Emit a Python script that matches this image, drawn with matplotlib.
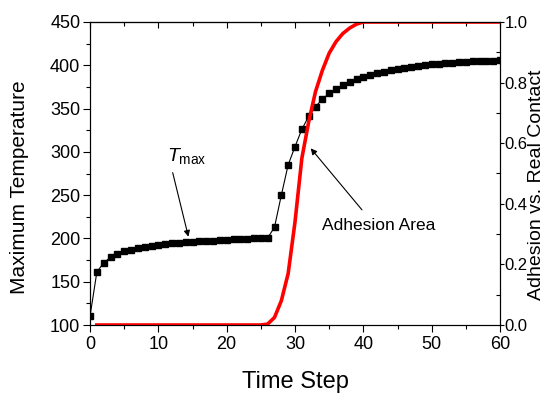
import matplotlib
matplotlib.use("Agg")
import matplotlib.pyplot as plt
from matplotlib.ticker import MultipleLocator

plt.rcParams['font.family'] = ['Liberation Sans', 'DejaVu Sans']
plt.rcParams['mathtext.fontset'] = 'custom'
plt.rcParams['mathtext.rm'] = 'Liberation Sans'
plt.rcParams['mathtext.it'] = 'Liberation Sans:italic'

# time steps and maximum temperature (left axis)
steps = list(range(0, 61))
t_max = [110, 161, 172, 178, 182, 185, 187, 189, 190.5, 191.5,
         192.5, 193.5, 194.5, 195, 195.5, 196, 196.5, 197, 197.5, 198,
         198.5, 199, 199, 199.5, 200, 200, 200.5, 213, 250, 285,
         306, 326, 341, 352, 361, 367.5, 372.5, 376.8, 380.6, 383.7,
         386.5, 388.7, 390.6, 392.5, 394, 395.5, 397, 398, 399, 400,
         401, 401.7, 402.3, 403, 403.5, 404, 404.4, 404.8, 405.1, 405.4,
         405.7]

# adhesion vs. real contact (right axis), starts at step 1
adh_steps = list(range(1, 61))
adhesion = [0] * 25 + [0.003, 0.025, 0.08, 0.17, 0.34, 0.55, 0.67, 0.77,
                       0.84, 0.897, 0.935, 0.962, 0.98, 0.993, 1.0] + [1.0] * 20

fig = plt.figure(figsize=(5.5, 3.98), dpi=100)
ax = fig.add_axes([90 / 550, 1 - 325 / 398, 410 / 550, 303 / 398])
ax2 = ax.twinx()

ax.plot(steps, t_max, color="black", linewidth=0.8, marker='s',
        markersize=4.3, zorder=3)
ax2.plot(adh_steps, adhesion, color="red", linewidth=2.6, zorder=2)

ax.set_xlim(0, 60)
ax.set_ylim(100, 450)
ax2.set_ylim(0, 1.0)

ax.xaxis.set_major_locator(MultipleLocator(10))
ax.xaxis.set_minor_locator(MultipleLocator(5))
ax.yaxis.set_major_locator(MultipleLocator(50))
ax.yaxis.set_minor_locator(MultipleLocator(25))
ax2.yaxis.set_major_locator(MultipleLocator(0.2))
ax2.yaxis.set_minor_locator(MultipleLocator(0.1))
ax2.yaxis.set_major_formatter(lambda v, p: f"{v:.1f}")

ax.tick_params(axis='both', which='major', direction='out', length=5,
               width=0.8, labelsize=13, pad=2)
ax.tick_params(axis='both', which='minor', direction='out', length=3, width=0.8)
ax.tick_params(axis='x', which='major', pad=3)
ax2.tick_params(axis='y', which='major', direction='out', length=3,
                width=0.8, labelsize=12, pad=0.5)
ax2.tick_params(axis='y', which='minor', direction='in', length=3, width=0.8)

top = ax.secondary_xaxis('top')
top.xaxis.set_major_locator(MultipleLocator(10))
top.xaxis.set_minor_locator(MultipleLocator(5))
top.tick_params(which='major', direction='in', length=4, width=0.8, labeltop=False)
top.tick_params(which='minor', direction='in', length=3, width=0.8)

for a in (ax, ax2):
    for s in a.spines.values():
        s.set_linewidth(0.8)
top.spines['top'].set_linewidth(0.8)

ax.set_xlabel("Time Step", fontsize=17, labelpad=13)
ax.set_ylabel("Maximum Temperature", fontsize=15)
ax.yaxis.set_label_coords(-0.148, 0.454)
ax2.set_ylabel("Adhesion vs. Real Contact", fontsize=14)
ax2.yaxis.set_label_coords(1.068, 0.464)

# annotations
ax.annotate("", xy=(14.4, 202), xytext=(12.1, 276),
            arrowprops=dict(arrowstyle='-|>', color='black', lw=0.8,
                            mutation_scale=9, shrinkA=0, shrinkB=0))
ax.text(11.2, 290, r"$T_{\mathrm{max}}$", fontsize=14, va='baseline', ha='left')

ax2.annotate("", xy=(32.3, 0.583), xytext=(39.8, 0.38),
             arrowprops=dict(arrowstyle='-|>', color='black', lw=0.8,
                             mutation_scale=9, shrinkA=0, shrinkB=0))
ax2.text(33.9, 0.313, "Adhesion Area", fontsize=12.5, va='baseline', ha='left')

fig.savefig("out.png", dpi=100)
